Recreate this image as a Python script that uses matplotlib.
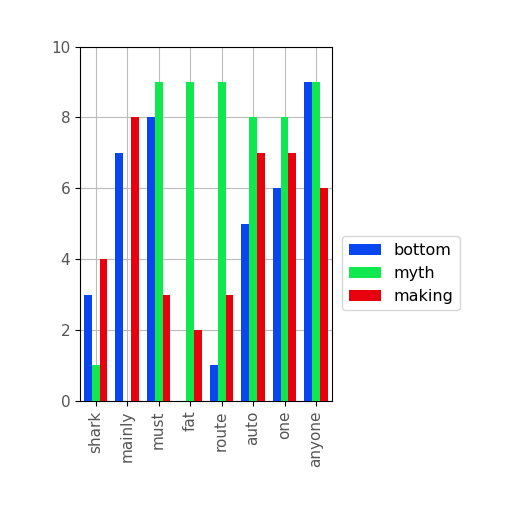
import matplotlib
matplotlib.use("Agg")
import matplotlib.pyplot as plt
import numpy as np

categories = ["shark", "mainly", "must", "fat", "route", "auto", "one", "anyone"]
bottom = [3, 7, 8, 0, 1, 5, 6, 9]
myth = [1, 0, 9, 9, 9, 8, 8, 9]
making = [4, 8, 3, 2, 3, 7, 7, 6]

fig = plt.figure(figsize=(5.12, 5.12), dpi=100)
ax = fig.add_axes([0.156, 0.217, 0.492, 0.692])
x = np.arange(len(categories))
w = 0.25
ax.bar(x - w, bottom, w, color="#0a46f0", label="bottom", zorder=3)
ax.bar(x, myth, w, color="#10e850", label="myth", zorder=3)
ax.bar(x + w, making, w, color="#e8000e", label="making", zorder=3)
ax.set_xticks(x)
ax.set_xticklabels(categories, rotation=90, fontsize=11, color="#555555")
ax.set_xlim(-0.5, len(categories) - 0.5)
ax.set_ylim(0, 10)
ax.set_yticks([0, 2, 4, 6, 8, 10])
ax.tick_params(axis="y", labelsize=11, labelcolor="#555555")
ax.grid(True, color="#bbbbbb", linewidth=0.8, zorder=0)
ax.legend(loc="center left", bbox_to_anchor=(1.01, 0.36), fontsize=11.5)
fig.savefig("out.png", dpi=100)
